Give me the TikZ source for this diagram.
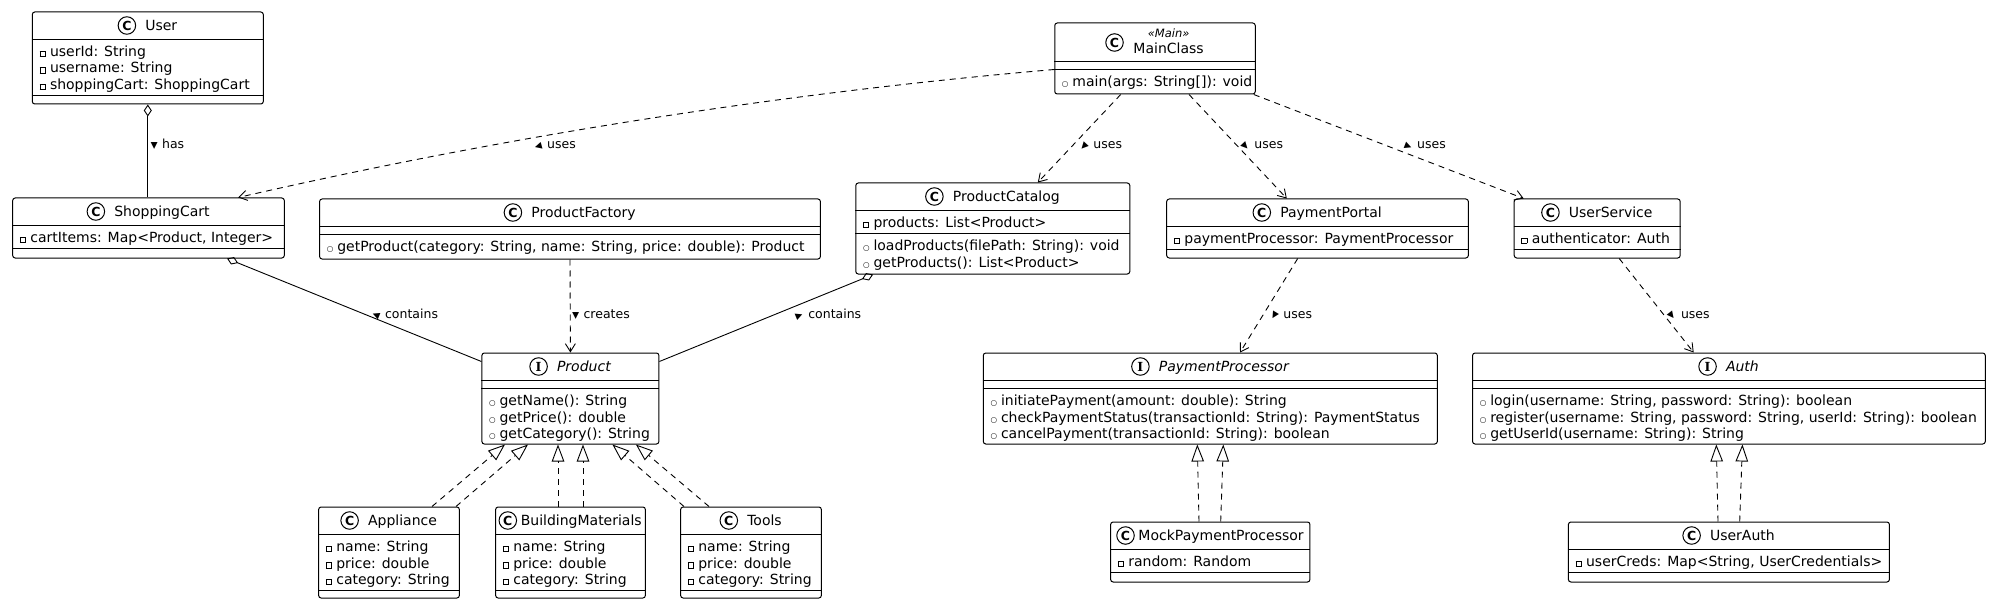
\documentclass[tikz,border=0pt]{standalone}
\usepackage{graphicx}
\usepackage{fontspec}
\setmainfont{DejaVu Sans}
\newfontfamily\serifI{DejaVu Serif}
\usetikzlibrary{positioning,arrows.meta}

% visibility markers and the small direction triangle of a label
\newcommand{\priv}{\makebox[10.5pt][l]{\raisebox{0.4pt}{\setlength{\fboxsep}{0pt}\setlength{\fboxrule}{0.7pt}\fbox{\rule{0pt}{4.6pt}\rule{4.6pt}{0pt}}}}}
\newcommand{\pub}{\makebox[10.5pt][l]{\fontsize{7.5}{7.5}\selectfont ○}}
\newcommand{\tri}[1]{\rotatebox[origin=c]{#1}{\fontsize{9}{9}\selectfont ▶}\hspace{4.5pt}}

\begin{document}
\begin{tikzpicture}[x=1pt,y=-1pt,
  cls/.style={draw,line width=1pt,rounded corners=2.5pt,inner sep=0pt},
  sep/.style={line width=1pt},
  cname/.style={inner sep=0pt,text height=10pt,text depth=0pt,font=\fontsize{14}{16.5}\selectfont},
  iname/.style={cname,font=\fontsize{14}{16.5}\selectfont\itshape},
  cicon/.style={draw,circle,line width=1pt,minimum size=17.5pt,inner sep=0pt,
                font=\fontsize{12.5}{12.5}\selectfont\bfseries},
  iicon/.style={cicon,font=\fontsize{12.5}{12.5}\selectfont\serifI\bfseries},
  member/.style={anchor=base west,inner sep=0pt,font=\fontsize{14}{16.5}\selectfont},
  lbl/.style={anchor=west,inner sep=0pt,text height=9pt,text depth=0pt,font=\fontsize{12.5}{12.5}\selectfont},
  dep/.style={line width=0.9pt,dash pattern=on 6pt off 5pt,-{Straight Barb[length=8pt,width=10pt]}},
  real/.style={line width=0.9pt,dash pattern=on 6pt off 5pt,-{Triangle[open,length=17pt,width=12.5pt]}},
  agg/.style={line width=0.9pt,{Diamond[open,length=12pt,width=8pt]}-}]

  \fill[white] (0,0) rectangle (1991,604);
  \useasboundingbox (0,0) rectangle (1991,604);

  % class boxes: id / centre / size / title height / attribute height
  \foreach \id/\cx/\cy/\w/\h/\tit/\att in {
      user/147.8/58/231/92/28/56, cart/148.5/228/271.6/60/28/23,
      factory/570/229/500.8/60/28/8, catalog/992.8/228.5/274/91/28/23,
      main/1155/58.5/200.5/71/39/8, portal/1317.5/228.5/301.6/59/28/23,
      usersvc/1597.2/228.5/166/59/28/23, product/570.4/398.5/177/91/28/8,
      payproc/1210.3/398.5/454/91/28/8, auth/1728.9/398.5/512.7/91/28/8,
      appliance/389/552.5/140.7/91/28/56, building/570.5/552.5/149.7/91/28/56,
      tools/751/552.5/140.7/91/28/56, mock/1210.3/552/199.3/60/28/23,
      userauth/1728.9/552/321/60/28/23} {
    \node[cls,minimum width=\w pt,minimum height=\h pt] (\id) at (\cx,\cy) {};
    \draw[sep] ([yshift=-\tit pt]\id.north west) -- ([yshift=-\tit pt]\id.north east);
    \draw[sep] ([yshift={-(\tit+\att)*1pt}]\id.north west) -- ([yshift={-(\tit+\att)*1pt}]\id.north east);
  }

  % titles (class icon left of the name)
  \foreach \id/\name/\dx/\gap in {user/User/13.5/9, cart/ShoppingCart/13.5/9,
      factory/ProductFactory/13.5/9, catalog/ProductCatalog/13.5/9,
      portal/PaymentPortal/13.5/9, usersvc/UserService/13.5/9,
      appliance/Appliance/13.5/9, building/BuildingMaterials/10.75/3.5,
      tools/Tools/13.5/9, mock/MockPaymentProcessor/10.75/3.5, userauth/UserAuth/13.5/9} {
    \node[cname] (\id-n) at ([xshift=\dx pt,yshift=-14pt]\id.north) {\name};
    \node[cicon,left=\gap pt of \id-n] (\id-c) {C};
  }
  \foreach \id/\name in {product/Product, payproc/PaymentProcessor, auth/Auth} {
    \node[iname] (\id-n) at ([xshift=13.5pt,yshift=-14pt]\id.north) {\name};
    \node[iicon,left=9pt of \id-n] (\id-c) {I};
  }
  \node[cname] (main-n) at ([xshift=13.6pt,yshift=-26pt]main.north) {MainClass};
  \node[cname,font=\fontsize{11.5}{12}\selectfont\itshape] (main-s)
        at ([xshift=13.6pt,yshift=-10pt]main.north) {«Main»};
  \node[cicon,anchor=east] (main-c) at ([xshift=-9.5pt,yshift=6pt]main-n.west) {C};

  % attributes and operations: box / part / first baseline / rows
  \foreach \bx/\part/\off/\rows in {
      user/a/45/{{\priv userId: String},{\priv username: String},{\priv shoppingCart: ShoppingCart}},
      cart/a/45/{{\priv cartItems: Map<Product, Integer>}},
      factory/m/53/{{\pub getProduct(category: String, name: String, price: double): Product}},
      catalog/a/45/{{\priv products: List<Product>}},
      catalog/m/68/{{\pub loadProducts(filePath: String): void},{\pub getProducts(): List<Product>}},
      main/m/64/{{\pub main(args: String[]): void}},
      portal/a/45/{{\priv paymentProcessor: PaymentProcessor}},
      usersvc/a/45/{{\priv authenticator: Auth}},
      product/m/53/{{\pub getName(): String},{\pub getPrice(): double},{\pub getCategory(): String}},
      payproc/m/53/{{\pub initiatePayment(amount: double): String},
                    {\pub checkPaymentStatus(transactionId: String): PaymentStatus},
                    {\pub cancelPayment(transactionId: String): boolean}},
      auth/m/53/{{\pub login(username: String, password: String): boolean},
                 {\pub register(username: String, password: String, userId: String): boolean},
                 {\pub getUserId(username: String): String}},
      appliance/a/45/{{\priv name: String},{\priv price: double},{\priv category: String}},
      building/a/45/{{\priv name: String},{\priv price: double},{\priv category: String}},
      tools/a/45/{{\priv name: String},{\priv price: double},{\priv category: String}},
      mock/a/45/{{\priv random: Random}},
      userauth/a/45/{{\priv userCreds: Map<String, UserCredentials>}}} {
    \foreach \t [count=\i] in \rows
      \node[member] (\bx-\part\i)
            at ([xshift=7.5pt,yshift={-(\off+16.5*(\i-1))*1pt}]\bx.north west) {\t};
  }

  % aggregations
  \draw[agg] (user.south) -- (user.south |- cart.north);
  \draw[agg] ([xshift=214.8pt]cart.south west) -- ([yshift=-9pt]product.north west);
  \draw[agg] ([xshift=17.8pt]catalog.south west) -- ([yshift=-9pt]product.north east);

  % dependencies
  \draw[dep] ([yshift=-47pt]main.north west) .. controls (782.6,93) and (510.3,135.2)
             .. ([xshift=226pt]cart.north west);
  \draw[dep] ([xshift=-34.3pt]main.south) -- ([xshift=45pt]catalog.north);
  \draw[dep] ([xshift=34pt]main.south) -- ([xshift=-30.7pt]portal.north);
  \draw[dep] ([xshift=-2pt]main.south east) -- ([xshift=10pt]usersvc.north west);
  \draw[dep] (factory.south) -- (product.north);
  \draw[dep] ([xshift=-19.8pt]portal.south) -- ([xshift=29.7pt]payproc.north);
  \draw[dep] ([xshift=22pt]usersvc.south) -- ([xshift=-35.2pt]auth.north);

  % realizations (each one drawn twice)
  \foreach \a/\da/\b/\db in {appliance/43/product/-65.4, appliance/67/product/-42.4,
      building/-12.5/product/-12.4, building/12.5/product/12.6,
      tools/-67/product/42, tools/-42/product/65.5,
      mock/-11.3/payproc/-13, mock/10.4/payproc/13,
      userauth/-10.9/auth/-12.6, userauth/10.8/auth/13.5}
    \draw[real] ([xshift=\da pt]\a.north) -- ([xshift=\db pt]\b.south);

  % connector labels
  \node[lbl] (has-l) at (150.5,144) {\tri{-90}has};
  \node[lbl] (uses-cart-l) at (534,144) {\tri{-165}uses};
  \node[lbl] (uses-catalog-l) at (1079,144) {\tri{-133}uses};
  \node[lbl] (uses-portal-l) at (1240,144) {\tri{-47}uses};
  \node[lbl] (uses-usersvc-l) at (1403.5,144) {\tri{-21}uses};
  \node[lbl] (contains-cart-l) at (371.4,313.5) {\tri{158}contains};
  \node[lbl] (creates-l) at (572,313.5) {\tri{-90}creates};
  \node[lbl] (contains-catalog-l) at (794.6,313.5) {\tri{22}contains};
  \node[lbl] (uses-payproc-l) at (1269.3,313.7) {\tri{-121}uses};
  \node[lbl] (uses-auth-l) at (1666.6,313.7) {\tri{-52}uses};

\end{tikzpicture}
\end{document}
